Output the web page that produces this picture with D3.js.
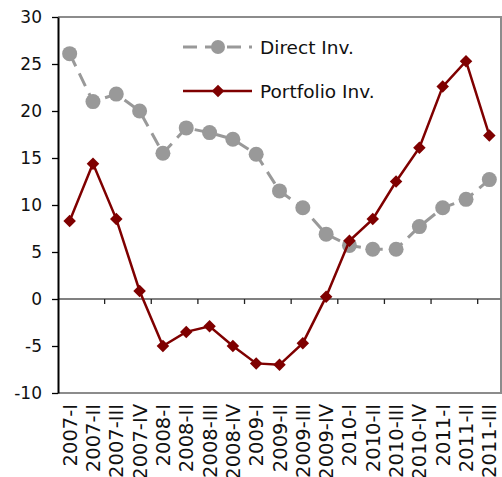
<!DOCTYPE html>
<html>
<head>
<meta charset="utf-8">
<script src="https://cdn.jsdelivr.net/npm/d3@7"></script>
<style>
	body { margin: 0; background: #fff; }
	text { font-family: "DejaVu Sans", sans-serif; fill: #111; }
</style>
</head>
<body>
<div id="chart"></div>
<script>
var quarters = ["2007-I", "2007-II", "2007-III", "2007-IV", "2008-I", "2008-II", "2008-III", "2008-IV",
	"2009-I", "2009-II", "2009-III", "2009-IV", "2010-I", "2010-II", "2010-III", "2010-IV",
	"2011-I", "2011-II", "2011-III"];

var directInv = [26.1, 21.0, 21.8, 20.0, 15.5, 18.2, 17.7, 17.0, 15.4, 11.5, 9.7, 6.9, 5.7, 5.3, 5.3, 7.7, 9.7, 10.6, 12.7];
var portfolioInv = [8.3, 14.4, 8.5, 0.85, -5.0, -3.5, -2.9, -5.0, -6.85, -7.0, -4.7, 0.25, 6.2, 8.5, 12.5, 16.1, 22.6, 25.3, 17.4];

var yTicks = [-10, -5, 0, 5, 10, 15, 20, 25, 30];

var seriesNames = ["Direct Inv.", "Portfolio Inv."];

var grey = "#999999",
	maroon = "#7f0000";

var svg = d3.select("#chart").append("svg")
	.attr("width", 502)
	.attr("height", 477);

var plot = {left: 58, right: 501, top: 17, bottom: 393};

var x = d3.scaleBand()
	.domain(quarters)
	.range([plot.left, plot.right])
	.padding(0);

var y = d3.scaleLinear()
	.domain([-10, 30])
	.range([plot.bottom, plot.top]);

function cx(d, i) { return x(quarters[i]) + x.bandwidth() / 2; }

/* frame */

svg.append("path")
	.attr("d", "M" + plot.left + "," + plot.top + "H" + plot.right + "V" + plot.bottom + "H" + plot.left)
	.attr("fill", "none")
	.attr("stroke", "#8c8c8c")
	.attr("stroke-width", 2);

/* zero line + ticks every second quarter */

svg.append("line")
	.attr("x1", plot.left).attr("x2", plot.right)
	.attr("y1", y(0)).attr("y2", y(0))
	.attr("stroke", "#808080")
	.attr("stroke-width", 2);

svg.selectAll(".xtick")
	.data(quarters.filter(function(d, i) { return i > 0 && i % 2 == 0; }))
	.enter().append("line")
	.attr("class", "xtick")
	.attr("x1", function(d) { return x(d); })
	.attr("x2", function(d) { return x(d); })
	.attr("y1", y(0))
	.attr("y2", y(0) + 5)
	.attr("stroke", "#222")
	.attr("stroke-width", 1.3);

/* y axis */

var yAxis = svg.append("g")
	.attr("transform", "translate(" + plot.left + ",0)")
	.call(d3.axisLeft(y)
		.tickValues(yTicks)
		.tickFormat(function(d) { return String(d); }) // plain hyphen like the original
		.tickSize(6).tickPadding(10).tickSizeOuter(0));

yAxis.select(".domain").attr("stroke", "#000").attr("stroke-width", 2);
yAxis.selectAll(".tick line").attr("stroke", "#000").attr("stroke-width", 1.3);
yAxis.selectAll(".tick text")
	.style("font-family", "'DejaVu Sans', sans-serif")
	.style("font-size", "17px")
	.attr("fill", "#111");

/* x labels */

svg.selectAll(".xlabel")
	.data(quarters)
	.enter().append("text")
	.attr("class", "xlabel")
	.attr("transform", function(d, i) { return "translate(" + (cx(d, i) + 7) + "," + 404 + ") rotate(-90)"; })
	.attr("text-anchor", "end")
	.style("font-size", "19.5px")
	.text(function(d) { return d; });

/* Direct Inv. */

var line = d3.line()
	.x(cx)
	.y(function(d) { return y(d); });

svg.append("path")
	.datum(directInv)
	.attr("d", line)
	.attr("fill", "none")
	.attr("stroke", grey)
	.attr("stroke-width", 3)
	.attr("stroke-dasharray", "14,8");

svg.selectAll(".dot")
	.data(directInv)
	.enter().append("circle")
	.attr("class", "dot")
	.attr("cx", cx)
	.attr("cy", function(d) { return y(d); })
	.attr("r", 7.5)
	.attr("fill", grey);

/* Portfolio Inv. */

svg.append("path")
	.datum(portfolioInv)
	.attr("d", line)
	.attr("fill", "none")
	.attr("stroke", maroon)
	.attr("stroke-width", 2.5);

var diamond = d3.symbol().type(d3.symbolDiamond2).size(100);

svg.selectAll(".diam")
	.data(portfolioInv)
	.enter().append("path")
	.attr("class", "diam")
	.attr("d", diamond)
	.attr("transform", function(d, i) { return "translate(" + cx(d, i) + "," + y(d) + ")"; })
	.attr("fill", maroon);

/* legend */

var legend = svg.append("g");

var lg1 = legend.append("g").attr("transform", "translate(0,47)");
lg1.append("line")
	.attr("x1", 183).attr("x2", 252)
	.attr("stroke", grey).attr("stroke-width", 3)
	.attr("stroke-dasharray", "14,8");
lg1.append("circle").attr("cx", 218).attr("r", 7).attr("fill", grey);
lg1.append("text").attr("x", 260).attr("y", 7).style("font-size", "18.5px").text(seriesNames[0]);

var lg2 = legend.append("g").attr("transform", "translate(0,91)");
lg2.append("line")
	.attr("x1", 183).attr("x2", 252)
	.attr("stroke", maroon).attr("stroke-width", 2.5);
lg2.append("path").attr("d", diamond).attr("transform", "translate(218,0)").attr("fill", maroon);
lg2.append("text").attr("x", 260).attr("y", 7).style("font-size", "18.5px").text(seriesNames[1]);
</script>
</body>
</html>
